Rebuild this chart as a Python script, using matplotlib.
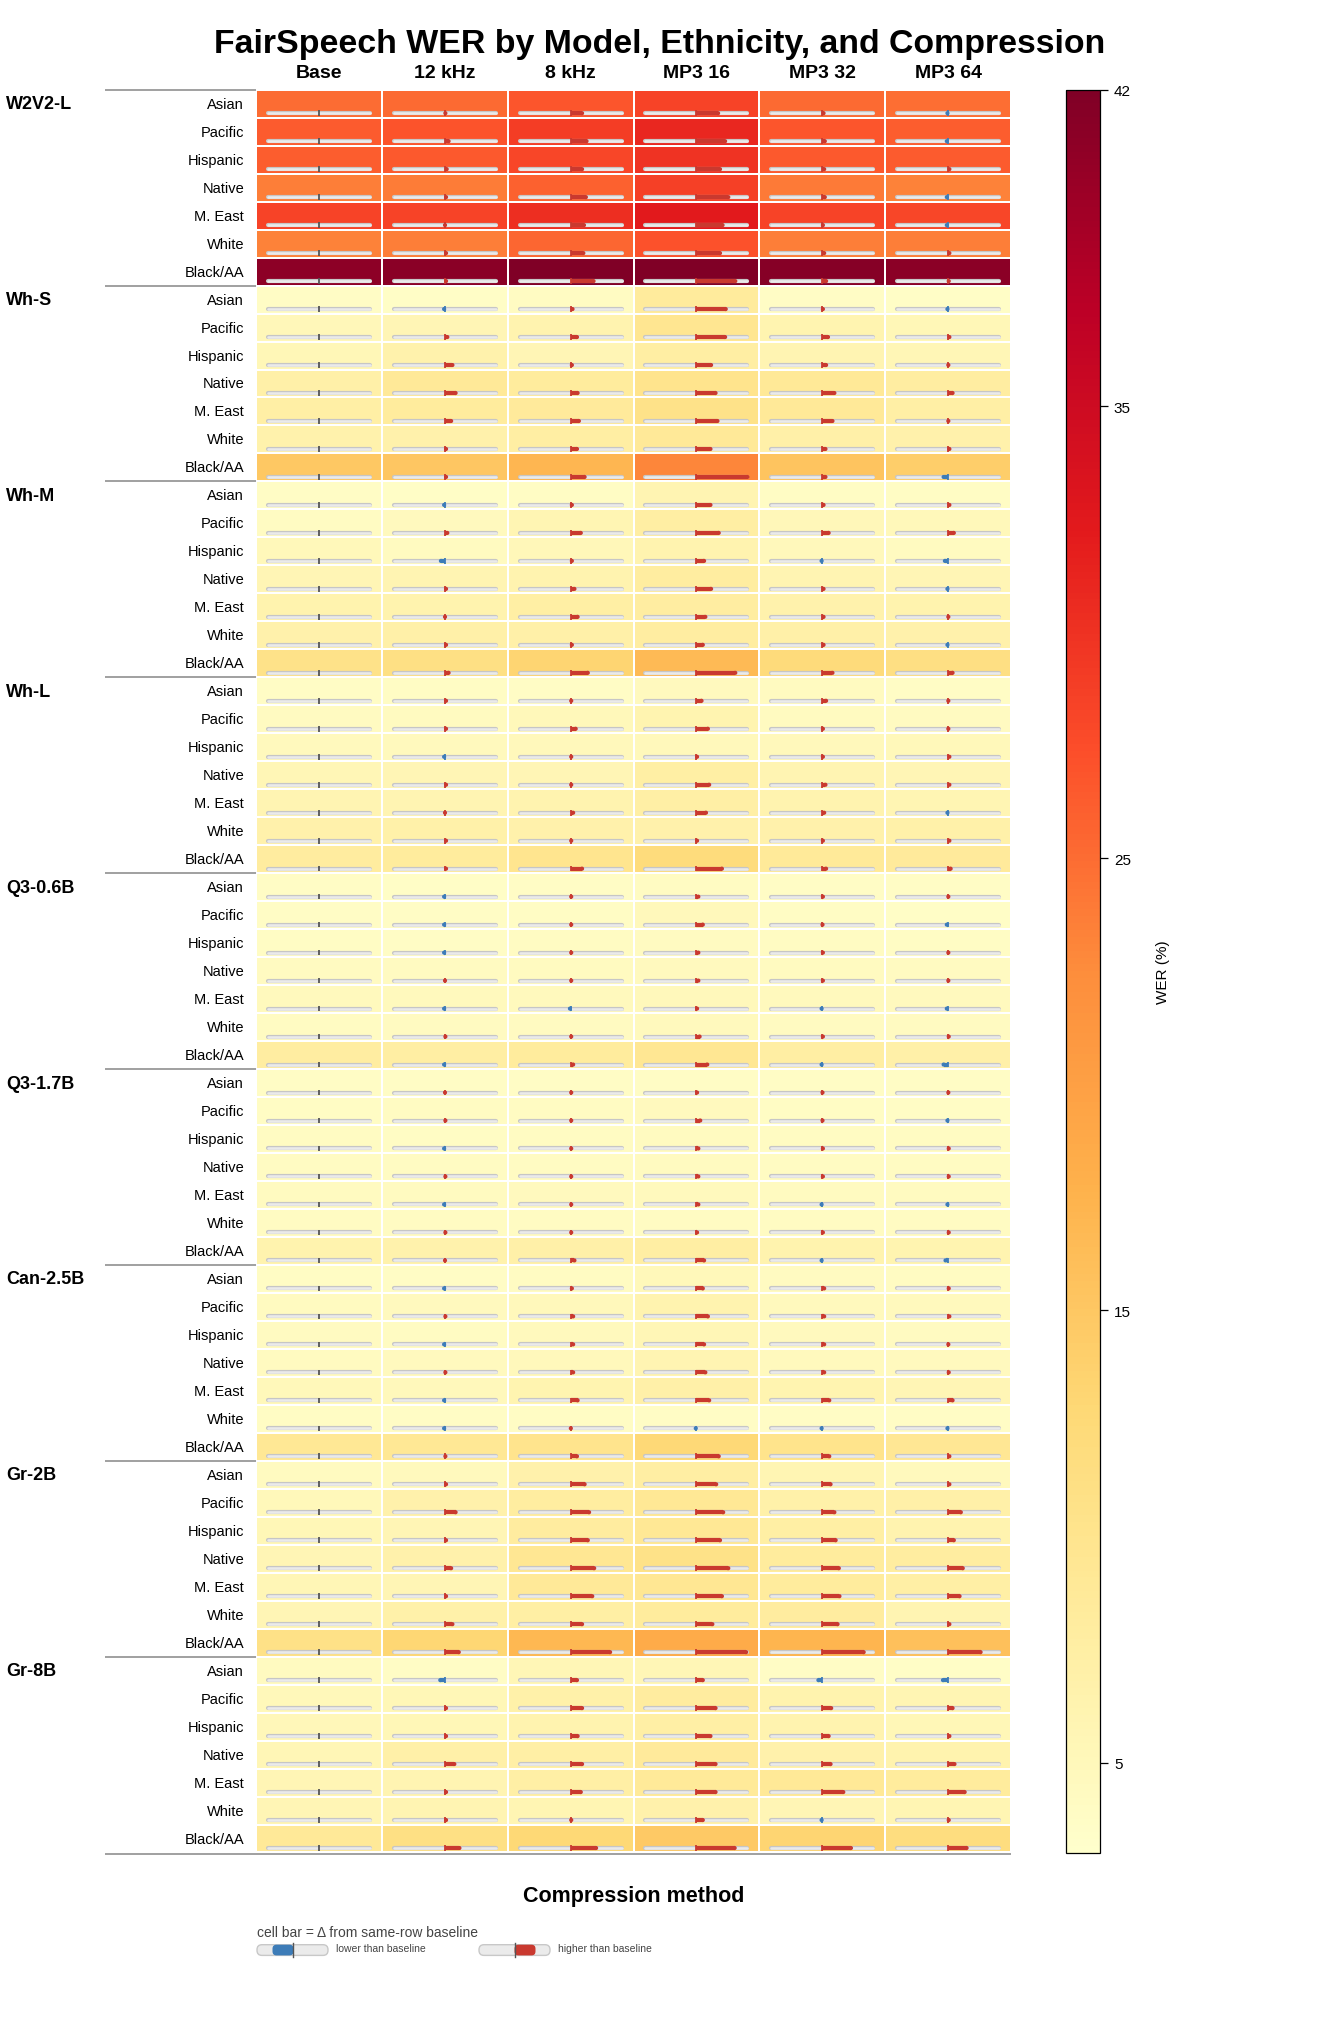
import numpy as np
import matplotlib
matplotlib.use('Agg')
import matplotlib.pyplot as plt
from matplotlib.collections import LineCollection
from matplotlib.patches import FancyBboxPatch
import matplotlib.transforms as mtrans

plt.rcParams['font.family'] = ['Liberation Sans', 'DejaVu Sans']

# ---------------- data ----------------
models = ['W2V2-L', 'Wh-S', 'Wh-M', 'Wh-L', 'Q3-0.6B', 'Q3-1.7B', 'Can-2.5B', 'Gr-2B', 'Gr-8B']
ethnicities = ['Asian', 'Pacific', 'Hispanic', 'Native', 'M. East', 'White', 'Black/AA']
methods = ['Base', '12 kHz', '8 kHz', 'MP3 16', 'MP3 32', 'MP3 64']

# baseline WER (%) per ethnicity (Base column)
base_w2v2_l = [25.0, 26.4, 26.2, 23.6, 28.3, 23.4, 40.9]
base_wh_s = [3.8, 5.2, 5.4, 7.1, 7.3, 6.6, 14.9]
base_wh_m = [3.8, 4.2, 5.0, 5.7, 6.4, 6.8, 10.6]
base_wh_l = [3.8, 4.3, 4.8, 5.5, 5.9, 6.7, 8.1]
base_q3_06 = [3.8, 3.9, 4.0, 4.3, 4.8, 4.2, 7.8]
base_q3_17 = [3.8, 4.0, 4.1, 4.1, 4.5, 4.1, 6.5]
base_can_25 = [4.0, 4.5, 4.3, 4.5, 5.0, 4.0, 9.1]
base_gr_2 = [4.5, 5.0, 5.4, 5.7, 5.5, 5.7, 10.8]
base_gr_8 = [4.5, 5.1, 5.2, 5.5, 5.7, 5.7, 8.8]

# change in WER (points) vs. baseline: 12 kHz, 8 kHz, MP3 16, MP3 32, MP3 64
delta_w2v2_l = [[0.1, 1.8, 3.4, 0.2, -0.1], [0.6, 2.5, 4.5, 0.4, -0.2], [0.3, 1.8, 3.7, 0.3, 0.2],
                [0.2, 2.4, 5.0, 0.4, -0.2], [0.04, 2.1, 4.1, 0.1, -0.2], [0.2, 2.0, 3.7, 0.3, 0.2],
                [0.2, 3.6, 6.1, 0.6, 0.1]]
delta_wh_s = [[-0.1, 0.3, 4.6, 0.1, -0.1], [0.4, 1.0, 4.5, 0.9, 0.2], [1.2, 0.2, 2.3, 0.6, 0.04],
              [1.7, 1.1, 3.0, 1.9, 0.7], [1.0, 1.3, 3.3, 1.6, 0.04], [0.2, 1.0, 2.2, 0.5, 0.2],
              [0.2, 2.2, 8.2, 0.5, -0.7]]
delta_wh_m = [[-0.1, 0.2, 2.2, 0.2, 0.2], [0.4, 1.6, 3.5, 1.0, 0.9], [-0.6, 0.2, 1.2, -0.1, -0.5],
              [0.2, 0.6, 2.3, 0.2, -0.1], [0.04, 1.1, 1.4, 0.2, 0.04], [0.2, 0.2, 1.0, 0.2, -0.1],
              [0.6, 2.7, 6.1, 1.6, 0.7]]
delta_wh_l = [[0.2, 0.1, 0.8, 0.6, 0.04], [0.2, 0.8, 1.8, 0.1, 0.04], [-0.1, 0.1, 0.1, 0.1, 0.2],
              [0.2, 0.1, 2.0, 0.5, 0.2], [0.04, 0.4, 1.5, 0.3, -0.1], [0.2, 0.1, 0.1, 0.1, 0.2],
              [0.2, 1.8, 4.0, 0.6, 0.4]]
delta_q3_06 = [[-0.1, 0.1, 0.3, 0.1, 0.04], [-0.1, 0.1, 1.0, 0.04, -0.2], [-0.1, 0.1, 0.3, 0.1, 0.04],
               [0.04, 0.1, 0.3, 0.1, 0.04], [-0.1, -0.1, 0.1, -0.1, -0.2], [0.1, 0.1, 0.5, 0.1, 0.1],
               [-0.1, 0.4, 1.7, -0.1, -0.7]]
delta_q3_17 = [[0.04, 0.1, 0.1, 0.04, 0.04], [0.1, 0.1, 0.6, 0.04, -0.1], [-0.1, 0.1, 0.3, 0.1, 0.1],
               [0.1, 0.1, 0.3, 0.1, 0.1], [-0.1, 0.1, 0.3, -0.1, -0.1], [0.1, 0.1, 0.1, 0.1, 0.1],
               [0.04, 0.6, 1.2, -0.1, -0.4]]
delta_can_25 = [[-0.1, 0.2, 1.0, 0.3, 0.1], [0.1, 0.4, 1.8, 0.3, 0.2], [-0.1, 0.4, 1.2, 0.3, 0.04],
                [0.1, 0.4, 1.4, 0.3, 0.1], [-0.1, 1.1, 2.0, 1.1, 0.7], [-0.1, 0.04, -0.1, -0.1, -0.1],
                [0.1, 1.0, 3.5, 1.1, 0.2]]
delta_gr_2 = [[0.2, 2.2, 3.1, 1.3, 0.2], [1.7, 2.9, 4.2, 1.9, 2.0], [0.2, 2.7, 3.7, 2.1, 0.9],
              [1.0, 3.7, 5.0, 2.6, 2.3], [0.2, 3.4, 4.0, 2.7, 1.8], [1.2, 1.8, 2.5, 2.4, 0.2],
              [2.2, 6.2, 7.8, 6.5, 5.1]]
delta_gr_8 = [[-0.7, 1.0, 1.0, -0.6, -0.8], [0.2, 1.8, 3.0, 1.4, 0.7], [0.2, 1.1, 2.2, 1.0, 0.2],
              [1.5, 1.8, 3.0, 1.3, 1.0], [0.2, 1.6, 3.0, 3.3, 2.6], [0.2, 0.1, 1.0, -0.1, 0.1],
              [2.3, 4.0, 6.0, 4.5, 2.9]]

base = np.array([base_w2v2_l, base_wh_s, base_wh_m, base_wh_l, base_q3_06,
                 base_q3_17, base_can_25, base_gr_2, base_gr_8])
delta = np.array([delta_w2v2_l, delta_wh_s, delta_wh_m, delta_wh_l, delta_q3_06,
                  delta_q3_17, delta_can_25, delta_gr_2, delta_gr_8])
dfull = np.concatenate([np.zeros(base.shape + (1,)), delta], axis=2)   # 9x7x6
wer = base[..., None] + dfull
n_rows = len(models) * len(ethnicities)
grid = wer.reshape(n_rows, len(methods))
dgrid = dfull.reshape(n_rows, len(methods))

# ---------------- style ----------------
W, H = 1320, 2040
RED = '#c9392f'
BLUE = '#3d7cb8'
TICKGRAY = '#555555'
BAR_SCALE = 8.0     # WER points that fill half the track
HALF = 0.405
TY = 0.84
BAR_LW = 3.0

fig = plt.figure(figsize=(W / 100, H / 100), dpi=100)
top_px, bot_px, left_px, right_px = 90.7, 1853.5, 256, 1011
ax = fig.add_axes([left_px / W, 1 - bot_px / H, (right_px - left_px) / W, (bot_px - top_px) / H])

mesh = ax.pcolormesh(np.arange(len(methods) + 1), np.arange(n_rows + 1), grid,
                     cmap='YlOrRd', vmin=3, vmax=42, edgecolors='white', linewidth=1.2)
ax.set_xlim(0, len(methods))
ax.set_ylim(n_rows, 0)
ax.set_axis_off()

# tracks, ticks, bars
track_segs, tick_segs, tick_cols, bar_segs, bar_cols = [], [], [], [], []
tip_x, tip_y = [], []
for r in range(n_rows):
    for c in range(len(methods)):
        cx = c + 0.5
        y = r + TY
        track_segs.append([(cx - HALF, y), (cx + HALF, y)])
        d = dgrid[r, c]
        if c == 0:
            col = TICKGRAY
        else:
            col = RED if d > 0 else BLUE
            frac = np.clip(d / BAR_SCALE, -1, 1)
            bar_segs.append([(cx, y), (cx + frac * HALF, y)])
            bar_cols.append(col)
            tip_x.append(cx + frac * HALF)
            tip_y.append(y)
        tick_segs.append([(cx, y - 0.1), (cx, y + 0.1)])
        tick_cols.append(col)

ax.add_collection(LineCollection(track_segs, colors='#c6c6c6', linewidths=3.0,
                                 capstyle='round', zorder=3))
ax.add_collection(LineCollection(track_segs, colors='#eaeaea', linewidths=1.9,
                                 capstyle='round', zorder=4))
ax.add_collection(LineCollection(bar_segs, colors=bar_cols, linewidths=BAR_LW,
                                 capstyle='butt', zorder=5))
ax.scatter(tip_x, tip_y, s=BAR_LW ** 2, c=bar_cols, marker='o', linewidths=0, zorder=5)
ax.add_collection(LineCollection(tick_segs, colors=tick_cols, linewidths=1.3,
                                 capstyle='butt', zorder=6))

# separators and labels
label_left = -(left_px - 105) / ((right_px - left_px) / len(methods))
trans_fig_data = mtrans.blended_transform_factory(fig.transFigure, ax.transData)
for g, m in enumerate(models):
    y0 = g * len(ethnicities)
    ax.plot([label_left, 0], [y0, y0], color='#999999', lw=1.3, clip_on=False,
            solid_capstyle='butt', zorder=2)
    ax.text(6 / W, y0 + 0.5, m, transform=trans_fig_data, ha='left', va='center',
            fontsize=13, fontweight='bold')
    for i, e in enumerate(ethnicities):
        ax.text(-0.095, y0 + i + 0.5, e, ha='right', va='center', fontsize=10.5)
ax.plot([label_left, len(methods)], [n_rows + 0.06, n_rows + 0.06], color='#999999', lw=1.3,
        clip_on=False, solid_capstyle='butt', zorder=7)

trans_data_fig = mtrans.blended_transform_factory(ax.transData, fig.transFigure)
for c, m in enumerate(methods):
    ax.text(c + 0.5, 1 - 74 / H, m, transform=trans_data_fig, ha='center', va='center',
            fontsize=14, fontweight='bold')

fig.text(0.5, 1 - 44 / H, 'FairSpeech WER by Model, Ethnicity, and Compression',
         ha='center', va='center', fontsize=24.4, fontweight='bold')
fig.text((left_px + right_px) / 2 / W, 1 - 1897 / H, 'Compression method',
         ha='center', va='center', fontsize=15.5, fontweight='bold')

# colorbar
cax = fig.add_axes([1066 / W, 1 - 1854 / H, 34 / W, (1854 - 90.7) / H])
cb = fig.colorbar(mesh, cax=cax, ticks=[5, 15, 25, 35, 42])
cb.ax.tick_params(labelsize=11, length=6, width=0.9, pad=4)
cb.outline.set_linewidth(0.9)
fig.text(1163 / W, 1 - 972 / H, 'WER (%)', rotation=90, ha='center', va='center', fontsize=11)

# legend (pixel-coordinate overlay)
lax = fig.add_axes([0, 0, 1, 1])
lax.set_xlim(0, W)
lax.set_ylim(H, 0)
lax.set_axis_off()
lax.patch.set_alpha(0)
lax.text(257, 1933, 'cell bar = \u0394 from same-row baseline', fontsize=10, color='#444444',
         ha='left', va='center')
for x0, col, label, sign in [(257, BLUE, 'lower than baseline', -1),
                             (479, RED, 'higher than baseline', 1)]:
    pw, ph, py = 71, 10.7, 1945.7
    lax.add_patch(FancyBboxPatch((x0, py), pw, ph, boxstyle='round,pad=0,rounding_size=5',
                                 fc='#ebebeb', ec='#c8c8c8', lw=1))
    cxp = x0 + pw / 2
    bx = cxp - 20 if sign < 0 else cxp
    lax.add_patch(FancyBboxPatch((bx, py), 21, ph, boxstyle='round,pad=0,rounding_size=4',
                                 fc=col, ec='none'))
    lax.plot([cxp, cxp], [py - 1.5, py + ph + 1.5], color=TICKGRAY, lw=1)
    lax.text(x0 + pw + 8, 1949, label, fontsize=7.5, color='#444444', ha='left', va='center')

fig.savefig('out.png', dpi=100)
